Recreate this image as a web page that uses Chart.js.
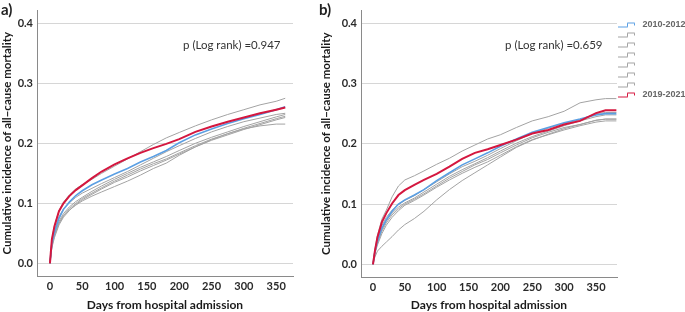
<!DOCTYPE html>
<html>
<head>
<meta charset="utf-8">
<script src="https://cdn.jsdelivr.net/npm/chart.js@4/dist/chart.umd.min.js"></script>
<style>
  body { margin: 0; background: #fff; }
  #wrap { position: relative; width: 685px; height: 312px; font-family: Lato, sans-serif; }
  canvas { position: absolute; top: 0; }
  .lbl { position: absolute; font-weight: bold; font-size: 15px; color: #222; line-height: 1; }
  .pval { position: absolute; font-size: 11.5px; color: #333; line-height: 1; white-space: nowrap; }
</style>
</head>
<body>
<div id="wrap">
  <canvas id="chartA" width="316" height="312" style="left:0"></canvas>
  <canvas id="chartB" width="369" height="312" style="left:316px"></canvas>
  <div class="lbl" style="left:1px;top:2px">a)</div>
  <div class="lbl" style="left:319px;top:2px">b)</div>
  <div class="pval" style="left:183px;top:39px">p (Log rank) =0.947</div>
  <div class="pval" style="left:505px;top:39px">p (Log rank) =0.659</div>
</div>
<script>
// panel a) - days and cumulative incidence per period
const daysA = [0, 3, 7, 14, 21, 30, 40, 50, 65, 80, 100, 120, 140, 160, 180, 200, 225, 250, 275, 300, 325, 350, 364];
const redA   = [0, 0.040, 0.062, 0.087, 0.100, 0.112, 0.122, 0.130, 0.142, 0.153, 0.165, 0.175, 0.184, 0.192, 0.199, 0.207, 0.219, 0.228, 0.236, 0.243, 0.250, 0.256, 0.2597];
const blueA  = [0, 0.033, 0.052, 0.075, 0.090, 0.102, 0.113, 0.121, 0.131, 0.139, 0.149, 0.158, 0.169, 0.178, 0.188, 0.201, 0.214, 0.224, 0.233, 0.241, 0.248, 0.256, 0.261];
const grayA1 = [0, 0.040, 0.063, 0.088, 0.102, 0.114, 0.124, 0.131, 0.140, 0.150, 0.162, 0.174, 0.186, 0.198, 0.209, 0.218, 0.229, 0.239, 0.248, 0.256, 0.264, 0.270, 0.275];
const grayA2 = [0, 0.035, 0.055, 0.078, 0.091, 0.101, 0.110, 0.117, 0.125, 0.133, 0.143, 0.153, 0.164, 0.175, 0.186, 0.196, 0.208, 0.219, 0.228, 0.236, 0.242, 0.248, 0.250];
const grayA3 = [0, 0.030, 0.048, 0.070, 0.083, 0.094, 0.103, 0.110, 0.120, 0.129, 0.140, 0.150, 0.160, 0.169, 0.178, 0.188, 0.200, 0.210, 0.219, 0.228, 0.236, 0.244, 0.248];
const grayA4 = [0, 0.028, 0.046, 0.067, 0.080, 0.091, 0.100, 0.108, 0.117, 0.126, 0.137, 0.147, 0.157, 0.166, 0.174, 0.184, 0.196, 0.207, 0.216, 0.225, 0.233, 0.241, 0.245];
const grayA5 = [0, 0.026, 0.043, 0.064, 0.077, 0.088, 0.098, 0.106, 0.115, 0.124, 0.135, 0.144, 0.154, 0.163, 0.172, 0.182, 0.194, 0.205, 0.214, 0.223, 0.231, 0.239, 0.243];
const grayA6 = [0, 0.030, 0.047, 0.067, 0.079, 0.089, 0.097, 0.104, 0.112, 0.119, 0.128, 0.137, 0.147, 0.158, 0.167, 0.180, 0.194, 0.206, 0.216, 0.224, 0.229, 0.232, 0.232];

// panel b)
const daysB = [0, 3, 7, 14, 21, 30, 40, 50, 65, 80, 100, 120, 140, 160, 180, 200, 225, 250, 275, 300, 325, 350, 365, 382];
const redB   = [0, 0.022, 0.045, 0.070, 0.085, 0.101, 0.115, 0.123, 0.132, 0.140, 0.150, 0.162, 0.175, 0.185, 0.191, 0.198, 0.207, 0.217, 0.223, 0.232, 0.238, 0.251, 0.2556, 0.2556];
const blueB  = [0, 0.020, 0.038, 0.060, 0.074, 0.088, 0.100, 0.107, 0.115, 0.124, 0.139, 0.152, 0.165, 0.175, 0.185, 0.196, 0.208, 0.219, 0.227, 0.235, 0.241, 0.248, 0.250, 0.250];
const grayB1 = [0, 0.025, 0.048, 0.075, 0.090, 0.112, 0.130, 0.140, 0.147, 0.155, 0.166, 0.176, 0.188, 0.198, 0.208, 0.215, 0.227, 0.238, 0.245, 0.254, 0.268, 0.273, 0.275, 0.275];
const grayB2 = [0, 0.024, 0.042, 0.064, 0.078, 0.090, 0.099, 0.106, 0.114, 0.124, 0.137, 0.150, 0.162, 0.171, 0.181, 0.192, 0.205, 0.217, 0.226, 0.234, 0.240, 0.250, 0.252, 0.252];
const grayB3 = [0, 0.021, 0.038, 0.058, 0.072, 0.085, 0.095, 0.102, 0.110, 0.120, 0.133, 0.146, 0.157, 0.167, 0.177, 0.188, 0.201, 0.212, 0.221, 0.230, 0.238, 0.245, 0.248, 0.248];
const grayB4 = [0, 0.020, 0.035, 0.055, 0.069, 0.082, 0.092, 0.100, 0.108, 0.117, 0.130, 0.143, 0.154, 0.165, 0.174, 0.185, 0.198, 0.210, 0.219, 0.227, 0.232, 0.239, 0.241, 0.241];
const grayB5 = [0, 0.018, 0.032, 0.051, 0.065, 0.078, 0.089, 0.098, 0.106, 0.115, 0.128, 0.140, 0.151, 0.161, 0.170, 0.181, 0.195, 0.207, 0.215, 0.223, 0.230, 0.236, 0.238, 0.238];
const grayB6 = [0, 0.012, 0.022, 0.030, 0.037, 0.046, 0.057, 0.066, 0.076, 0.088, 0.107, 0.124, 0.139, 0.152, 0.165, 0.178, 0.194, 0.206, 0.216, 0.225, 0.232, 0.239, 0.241, 0.241];

const xTicks = [0, 50, 100, 150, 200, 250, 300, 350];
const yTicks = [0, 0.1, 0.2, 0.3, 0.4];
const legendLabels = ['2010-2012', '', '', '', '', '', '', '2019-2021'];

const RED = '#d4173f';
const BLUE = '#5b9fe3';
const GRAY = '#a3a3a3';
const TXT = '#2a2a2a';

function toXY(days, vals) {
  return days.map((d, i) => ({ x: d, y: vals[i] }));
}

// little KM step symbol for the legend (drawn in the left 17px of a 20px box)
function stepGlyph(color) {
  const c = document.createElement('canvas');
  c.width = 20; c.height = 8;
  const g = c.getContext('2d');
  g.strokeStyle = color;
  g.lineWidth = 1;
  g.beginPath();
  g.moveTo(0, 6.5);
  g.lineTo(9.5, 6.5);
  g.lineTo(9.5, 2.5);
  g.lineTo(16.5, 2.5);
  g.lineTo(16.5, 5);
  g.stroke();
  return c;
}

function makeChart(id, days, blue, grays, red, cfg) {
  const datasets = [];
  datasets.push({ label: legendLabels[0], data: toXY(days, blue), borderColor: BLUE, borderWidth: 1.6, order: 1 });
  grays.forEach((g, i) => {
    datasets.push({ label: legendLabels[i + 1], data: toXY(days, g), borderColor: GRAY, borderWidth: 1, order: 2 });
  });
  datasets.push({ label: legendLabels[7], data: toXY(days, red), borderColor: RED, borderWidth: 2, order: 0 });

  return new Chart(document.getElementById(id), {
    type: 'line',
    data: { datasets: datasets },
    options: {
      responsive: false,
      animation: false,
      devicePixelRatio: 1,
      events: [],
      elements: { point: { radius: 0 }, line: { tension: 0, fill: false } },
      layout: { padding: cfg.padding },
      plugins: {
        tooltip: { enabled: false },
        legend: {
          display: cfg.legend,
          position: 'right',
          align: 'start',
          maxWidth: 68,
          title: { display: true, text: ' ', font: { size: 10 }, padding: { top: 6, bottom: 0 } },
          labels: {
            usePointStyle: true,
            pointStyleWidth: 20,
            padding: 1,
            color: '#1a1a1a',
            font: { family: 'Liberation Sans', size: 9, weight: 'bold' },
            generateLabels: (chart) => chart.data.datasets.map((ds, i) => ({
              text: ds.label,
              pointStyle: stepGlyph(ds.borderColor),
              fillStyle: ds.borderColor,
              strokeStyle: ds.borderColor,
              lineWidth: 0,
              datasetIndex: i
            }))
          }
        }
      },
      scales: {
        x: {
          type: 'linear',
          min: cfg.xMin,
          max: cfg.xMax,
          afterBuildTicks: (s) => { s.ticks = xTicks.map(v => ({ value: v })); },
          afterFit: (s) => { s.height = cfg.xHeight; },
          grid: { display: false, drawTicks: false },
          border: { display: true, color: '#8a8a8a', width: 1 },
          ticks: { padding: 4, color: TXT, font: { family: 'Lato', size: 11, weight: 'bold' } },
          title: { display: true, text: 'Days from hospital admission', color: '#1a1a1a', padding: 0,
                   font: { family: 'Lato', size: 12, weight: 'bold' } }
        },
        y: {
          type: 'linear',
          min: -0.021,
          max: 0.421,
          afterBuildTicks: (s) => { s.ticks = yTicks.map(v => ({ value: v })); },
          afterFit: (s) => { s.width = cfg.yWidth; },
          grid: { color: '#d6d6d6', lineWidth: 1, drawTicks: false },
          border: { display: true, color: '#8a8a8a', width: 1 },
          ticks: { padding: 4, color: TXT, font: { family: 'Lato', size: 11, weight: 'bold' },
                   callback: (v) => v.toFixed(1) },
          title: { display: true, text: 'Cumulative incidence of all\u2212cause mortality', color: '#1a1a1a', padding: 0,
                   font: { family: 'Lato', size: 11.5, weight: 'bold' } }
        }
      }
    }
  });
}

makeChart('chartA', daysA, blueA, [grayA1, grayA2, grayA3, grayA4, grayA5, grayA6], redA, {
  padding: { left: 0, top: 4, right: 23, bottom: 0 },
  xMin: -20, xMax: 376, yWidth: 37, xHeight: 36, legend: false
});
makeChart('chartB', daysB, blueB, [grayB1, grayB2, grayB3, grayB4, grayB5, grayB6], redB, {
  padding: { left: 3, top: 1, right: 0, bottom: 0 },
  xMin: -18.8, xMax: 383, yWidth: 42, xHeight: 35, legend: true
});
</script>
</body>
</html>
